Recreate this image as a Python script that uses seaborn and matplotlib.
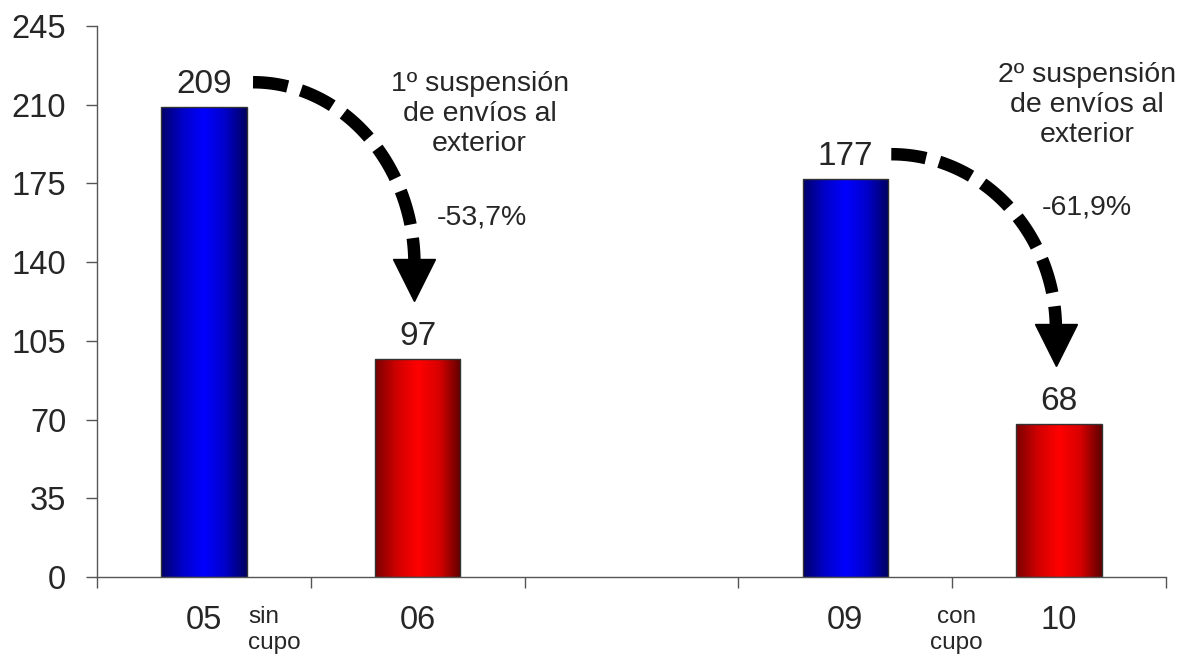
import numpy as np
import pandas as pd
import seaborn as sns
import matplotlib
matplotlib.use("Agg")
import matplotlib.pyplot as plt
from matplotlib.colors import LinearSegmentedColormap

# data
years = ["05", "06", "09", "10"]
order = ["05", "06", "", "09", "10"]
exports = [209, 97, 177, 68]
bar_colors = {"05": "blue", "06": "red", "09": "blue", "10": "red"}
changes = ["-53,7%", "-61,9%"]
events = ["1º suspensión\nde envíos al\nexterior", "2º suspensión\nde envíos al\nexterior"]
regime = ["sin\ncupo", "con\ncupo"]
yticks = [0, 35, 70, 105, 140, 175, 210, 245]

sns.set_style("white")
plt.rcParams["font.family"] = ["Liberation Sans", "DejaVu Sans"]

df = pd.DataFrame({"year": years, "value": exports})

fig = plt.figure(figsize=(11.82, 6.55), dpi=100)
ax = fig.add_axes([0.082, 0.119, 0.9045, 0.8413])

sns.barplot(data=df, x="year", y="value", order=order, hue="year",
            palette={k: "white" for k in years}, legend=False, width=0.4,
            edgecolor="#333333", linewidth=1, ax=ax)

# cylinder-like shading on each bar
cmaps = {
    "blue": LinearSegmentedColormap.from_list("b", ["#00006a", "#0000c8", "#0000ff", "#0000c8", "#000060"]),
    "red": LinearSegmentedColormap.from_list("r", ["#7a0000", "#d00000", "#ff0000", "#d80000", "#5e0000"]),
}
grad = np.linspace(0, 1, 256).reshape(1, -1)
patches = [p for p in ax.patches if p.get_height() > 0]
patches = sorted(patches, key=lambda p: p.get_x())
for p, yr in zip(patches, years):
    x0, w, h = p.get_x(), p.get_width(), p.get_height()
    im = ax.imshow(grad, cmap=cmaps[bar_colors[yr]], aspect="auto",
                   extent=[x0, x0 + w, 0, h], zorder=1.5, interpolation="bicubic")
    im.set_clip_path(p)
    p.set_facecolor("none")
    p.set_zorder(2)
    ax.annotate(str(exports[years.index(yr)]), (x0 + w / 2, h), xytext=(0, 5),
                textcoords="offset points", ha="center", va="bottom", fontsize=24)

ax.set_xlim(-0.5, 4.5)
ax.set_ylim(0, 245)
ax.set_yticks(yticks)
ax.set_xlabel("")
ax.set_ylabel("")

# category boundaries as ticks
ax.set_xticks(np.arange(-0.5, 5, 1), minor=True)
ax.tick_params(axis="x", which="major", length=0, pad=20, labelsize=23.5)
ax.tick_params(axis="x", which="minor", length=8, width=1, color="#555555", direction="out")
ax.tick_params(axis="y", length=8, width=1, color="#555555", direction="out", pad=14, labelsize=23.5)
ax.tick_params(bottom=True, left=True, which="both")
for s in ["top", "right"]:
    ax.spines[s].set_visible(False)
for s in ["left", "bottom"]:
    ax.spines[s].set_color("#555555")
    ax.spines[s].set_linewidth(1)

# dashed curved arrows between the pairs
pos = {yr: order.index(yr) for yr in years}
pairs = [("05", "06"), ("09", "10")]
start_dx = [0.23, 0.215]
theta = np.linspace(0, np.pi / 2, 100)
for i, (a, b) in enumerate(pairs):
    va_, vb_ = exports[years.index(a)], exports[years.index(b)]
    x0 = pos[a] + start_dx[i]
    x1 = pos[b] - 0.015
    y0 = va_ + 11
    tip = vb_ + 26
    y2 = tip + 16
    xs = x0 + (x1 - x0) * np.sin(theta)
    ys = y2 + (y0 - y2) * np.cos(theta)
    ax.plot(xs, ys, color="black", lw=9, linestyle=(0, (2.8, 1.1)),
            dash_capstyle="butt", solid_capstyle="butt", zorder=4)
    ax.plot([x1], [tip + 9], marker="v", markersize=30, color="black", zorder=5)

    ax.text(pos[b] + 0.29 - 0.16 * i, 206 + 4 * i, events[i], ha="center", va="center",
            fontsize=20.5, linespacing=1.2)
    ax.text(pos[b] + 0.30 - 0.17 * i, 160 + 4.5 * i, changes[i], ha="center", va="center",
            fontsize=20.5)

# regime notes under the axis
ax.text(0.207, -23.5, regime[0], ha="left", va="center", fontsize=17.5,
        linespacing=1.2, clip_on=False)
ax.text(3.52, -23.5, regime[1], ha="center", va="center", fontsize=17.5,
        linespacing=1.2, clip_on=False)

fig.savefig("out.png", dpi=100)
